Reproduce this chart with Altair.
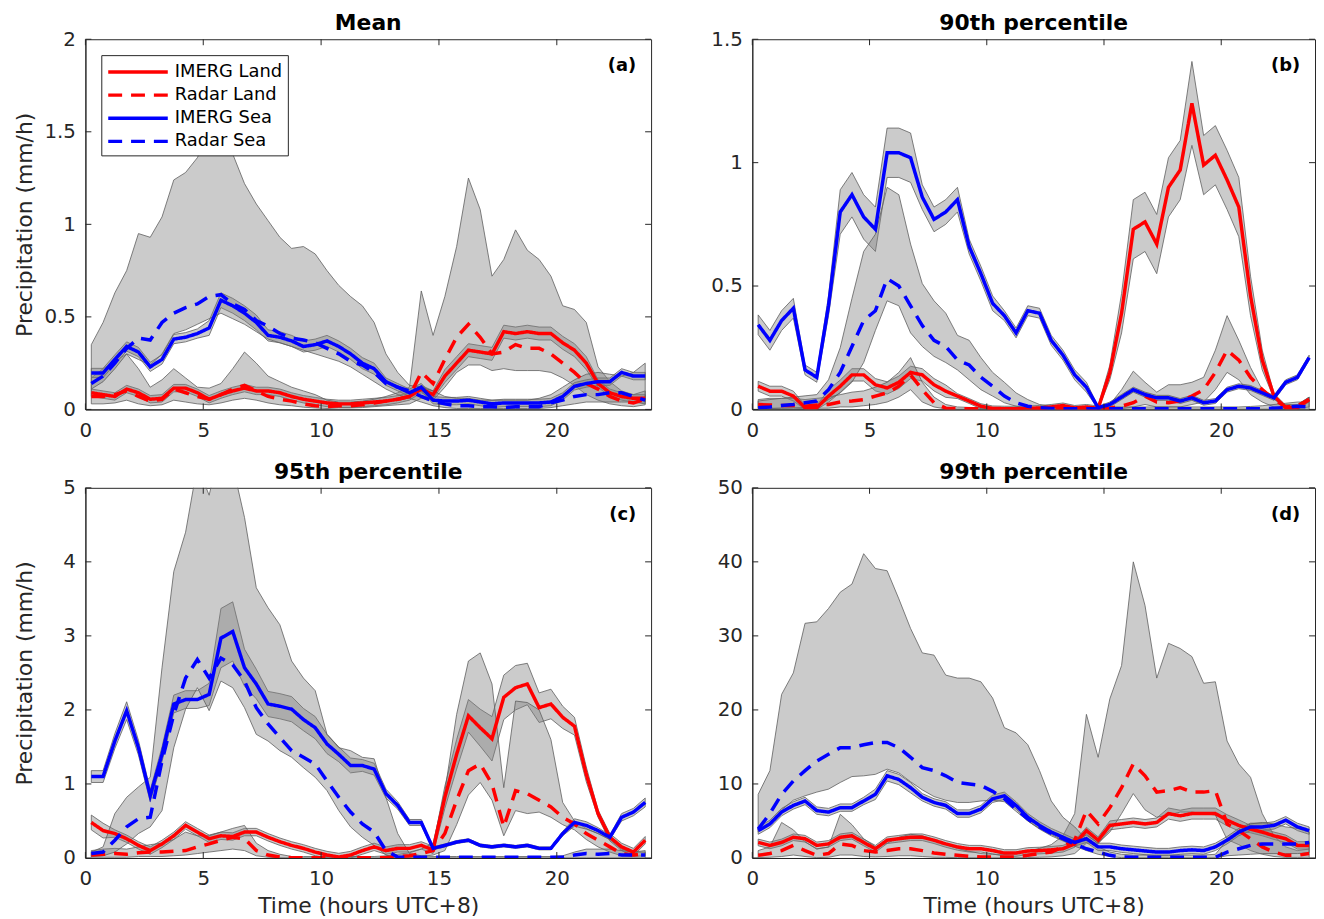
import altair as alt
import pandas as pd

FONT = "DejaVu Sans"
SERIES = ["IMERG Land", "Radar Land", "IMERG Sea", "Radar Sea"]
COLORS = ["#ff0000", "#ff0000", "#0000ff", "#0000ff"]
DASHES = [[1, 0], [14, 9], [1, 0], [14, 9]]

HOURS = [0.25, 0.75, 1.25, 1.75, 2.25, 2.75, 3.25, 3.75, 4.25, 4.75, 5.25, 5.75,
         6.25, 6.75, 7.25, 7.75, 8.25, 8.75, 9.25, 9.75, 10.25, 10.75, 11.25, 11.75,
         12.25, 12.75, 13.25, 13.75, 14.25, 14.75, 15.25, 15.75, 16.25, 16.75, 17.25, 17.75,
         18.25, 18.75, 19.25, 19.75, 20.25, 20.75, 21.25, 21.75, 22.25, 22.75, 23.25, 23.75]
X_TICKS = [0, 5, 10, 15, 20]

# ---------------- (a) Mean ----------------
a_imerg_land = [0.09,0.08,0.07,0.11,0.09,0.055,0.06,0.115,0.115,0.09, 0.055,0.08,0.10,0.115,0.10,0.10,0.09,0.07,0.055,0.045,
                0.035,0.03,0.03,0.035,0.04,0.045,0.055,0.07,0.11,0.08, 0.18,0.25,0.32,0.31,0.30,0.42,0.41,0.42,0.41,0.41,
                0.36,0.32,0.25,0.14,0.09,0.07,0.06,0.06]
a_imerg_land_hw = [0.02,0.02,0.02,0.02,0.02,0.02,0.02,0.02,0.02,0.02, 0.02,0.02,0.02,0.02,0.02,0.02,0.02,0.02,0.02,0.02,
                   0.02,0.02,0.02,0.02,0.02,0.02,0.02,0.02,0.02,0.02, 0.035,0.035,0.035,0.035,0.035,0.035,0.035,0.035,0.035,0.035,
                   0.035,0.035,0.035,0.02,0.02,0.02,0.02,0.02]
a_radar_land = [0.07,0.07,0.08,0.10,0.07,0.045,0.055,0.11,0.09,0.07, 0.055,0.08,0.11,0.13,0.10,0.07,0.055,0.045,0.03,0.02,
                0.015,0.02,0.02,0.025,0.035,0.045,0.055,0.07,0.20,0.14, 0.27,0.39,0.46,0.39,0.30,0.31,0.35,0.33,0.33,0.30,
                0.25,0.20,0.14,0.11,0.07,0.045,0.035,0.055]
a_radar_land_lo = [0.03,0.03,0.035,0.05,0.03,0.02,0.025,0.05,0.04,0.03, 0.025,0.035,0.05,0.06,0.05,0.035,0.025,0.02,0.012,0.008,
                   0.005,0.008,0.008,0.01,0.015,0.02,0.025,0.03,0.06,0.05, 0.12,0.2,0.24,0.24,0.21,0.22,0.21,0.21,0.21,0.2,
                   0.17,0.13,0.08,0.05,0.03,0.02,0.015,0.025]
a_radar_land_hi = [0.17,0.22,0.26,0.30,0.22,0.12,0.16,0.22,0.17,0.12, 0.115,0.14,0.22,0.31,0.25,0.18,0.15,0.12,0.10,0.08,
                   0.05,0.04,0.04,0.045,0.055,0.07,0.09,0.12,0.64,0.40, 0.61,0.88,1.25,1.08,0.72,0.81,0.97,0.86,0.81,0.72,
                   0.56,0.54,0.47,0.23,0.15,0.10,0.08,0.10]
a_imerg_sea = [0.197,0.197,0.27,0.34,0.31,0.23,0.27,0.38,0.39,0.41, 0.44,0.59,0.56,0.52,0.47,0.40,0.39,0.37,0.34,0.35,
               0.37,0.34,0.30,0.25,0.22,0.15,0.12,0.09,0.12,0.05, 0.045,0.045,0.05,0.04,0.03,0.035,0.035,0.035,0.035,0.04,
               0.07,0.125,0.14,0.15,0.15,0.20,0.18,0.18]
a_imerg_sea_hw = [0.025,0.025,0.025,0.025,0.025,0.025,0.025,0.025,0.025,0.025, 0.04,0.04,0.04,0.04,0.04,0.03,0.03,0.03,0.03,0.03,
                  0.03,0.03,0.03,0.03,0.03,0.02,0.02,0.02,0.02,0.02, 0.02,0.02,0.02,0.02,0.02,0.02,0.02,0.02,0.02,0.02,
                  0.02,0.02,0.02,0.02,0.02,0.02,0.02,0.02]
a_radar_sea = [0.14,0.18,0.25,0.33,0.385,0.375,0.47,0.52,0.55,0.57, 0.61,0.62,0.57,0.54,0.48,0.45,0.41,0.385,0.375,0.36,
               0.33,0.30,0.26,0.24,0.20,0.14,0.12,0.10,0.07,0.045, 0.03,0.02,0.02,0.015,0.015,0.01,0.015,0.015,0.015,0.035,
               0.05,0.07,0.08,0.08,0.09,0.09,0.07,0.05]
a_radar_sea_lo = [0.11,0.15,0.22,0.30,0.27,0.24,0.30,0.41,0.43,0.46, 0.49,0.52,0.49,0.46,0.42,0.38,0.36,0.34,0.32,0.30,
                  0.28,0.26,0.23,0.19,0.15,0.11,0.08,0.06,0.04,0.02, 0.01,0.005,0.005,0.005,0.005,0.005,0.005,0.005,0.005,0.01,
                  0.02,0.03,0.04,0.04,0.04,0.04,0.04,0.03]
a_radar_sea_hi = [0.35,0.47,0.63,0.75,0.95,0.93,1.04,1.24,1.28,1.36, 1.50,1.60,1.38,1.22,1.11,1.02,0.93,0.87,0.88,0.84,
                  0.75,0.67,0.61,0.56,0.47,0.30,0.20,0.13,0.12,0.10, 0.07,0.06,0.06,0.05,0.05,0.05,0.05,0.05,0.06,0.08,
                  0.12,0.16,0.19,0.20,0.19,0.18,0.2,0.25]

# ---------------- (b) 90th percentile ----------------
b_imerg_land = [0.094,0.074,0.074,0.054,0.007,0.007,0.054,0.094,0.14,0.14, 0.10,0.087,0.11,0.15,0.14,0.10,0.074,0.054,0.034,0.013,
                0.004,0.003,0.003,0.004,0.006,0.01,0.016,0.006,0.01,0.004, 0.15,0.39,0.73,0.76,0.67,0.90,0.97,1.24,0.99,1.03,
                0.93,0.82,0.46,0.20,0.054,0.007,0.007,0.04]
b_imerg_land_hw = [0.02,0.02,0.02,0.02,0.01,0.01,0.025,0.025,0.025,0.025, 0.025,0.025,0.025,0.025,0.025,0.025,0.025,0.01,0.01,0.01,
                   0.01,0.01,0.01,0.01,0.01,0.01,0.01,0.01,0.01,0.01, 0.03,0.08,0.12,0.12,0.12,0.12,0.12,0.17,0.12,0.12,
                   0.12,0.12,0.08,0.04,0.01,0.01,0.01,0.01]
b_radar_land = [0.02,0.018,0.016,0.016,0.013,0.018,0.02,0.03,0.034,0.04, 0.054,0.067,0.094,0.14,0.08,0.027,0.005,0.003,0.003,0.003,
                0.003,0.003,0.003,0.003,0.003,0.003,0.003,0.003,0.003,0.003, 0.005,0.013,0.027,0.054,0.03,0.027,0.034,0.054,0.08,0.15,
                0.24,0.20,0.13,0.08,0.04,0.01,0.015,0.04]
b_radar_land_lo = [0.005,0.005,0.005,0.005,0.003,0.005,0.005,0.01,0.01,0.015, 0.02,0.03,0.05,0.08,0.03,0.01,0.002,0.001,0.001,0.001,
                   0.001,0.001,0.001,0.001,0.001,0.001,0.001,0.001,0.001,0.001, 0.001,0.003,0.01,0.02,0.01,0.01,0.01,0.02,0.03,0.08,
                   0.15,0.12,0.06,0.03,0.01,0.003,0.003,0.01]
b_radar_land_hi = [0.04,0.045,0.045,0.045,0.04,0.045,0.05,0.06,0.07,0.075, 0.09,0.11,0.15,0.21,0.11,0.05,0.02,0.01,0.008,0.006,
                   0.006,0.006,0.006,0.006,0.006,0.006,0.006,0.006,0.006,0.006, 0.02,0.08,0.155,0.11,0.07,0.10,0.10,0.11,0.13,0.24,
                   0.38,0.28,0.17,0.08,0.04,0.02,0.02,0.05]
b_imerg_sea = [0.343,0.28,0.36,0.41,0.16,0.13,0.42,0.80,0.87,0.78, 0.73,1.04,1.04,1.02,0.86,0.77,0.80,0.85,0.66,0.55,
               0.43,0.38,0.31,0.40,0.39,0.28,0.22,0.14,0.09,0.007, 0.02,0.05,0.08,0.06,0.047,0.047,0.034,0.047,0.027,0.034,
               0.08,0.094,0.087,0.067,0.047,0.11,0.13,0.21]
b_imerg_sea_hw = [0.04,0.04,0.04,0.04,0.02,0.02,0.04,0.09,0.09,0.09, 0.09,0.1,0.1,0.1,0.05,0.05,0.05,0.05,0.03,0.03,
                  0.03,0.02,0.02,0.02,0.02,0.02,0.02,0.02,0.02,0.005, 0.01,0.01,0.01,0.01,0.01,0.01,0.01,0.01,0.01,0.01,
                  0.01,0.01,0.01,0.01,0.01,0.01,0.01,0.01]
b_radar_sea = [0.007,0.01,0.016,0.02,0.027,0.034,0.08,0.15,0.255,0.36, 0.40,0.53,0.50,0.42,0.34,0.28,0.255,0.20,0.18,0.13,
               0.094,0.054,0.027,0.013,0.007,0.004,0.003,0.003,0.003,0.003, 0.003,0.003,0.003,0.003,0.003,0.003,0.003,0.003,0.003,0.003,
               0.003,0.003,0.003,0.003,0.005,0.008,0.013,0.01]
b_radar_sea_lo = [0.002,0.003,0.005,0.006,0.008,0.01,0.04,0.067,0.11,0.19, 0.32,0.44,0.42,0.31,0.255,0.215,0.19,0.16,0.12,0.08,
                  0.054,0.027,0.013,0.005,0.002,0.001,0.001,0.001,0.001,0.001, 0.001,0.001,0.001,0.001,0.001,0.001,0.001,0.001,0.001,0.001,
                  0.001,0.001,0.001,0.001,0.001,0.001,0.001,0.001]
b_radar_sea_hi = [0.034,0.04,0.045,0.05,0.055,0.06,0.12,0.25,0.45,0.64, 0.71,0.90,0.87,0.67,0.51,0.44,0.39,0.30,0.28,0.21,
                  0.15,0.11,0.067,0.04,0.02,0.012,0.01,0.01,0.01,0.01, 0.01,0.01,0.01,0.01,0.01,0.01,0.01,0.01,0.01,0.01,
                  0.01,0.01,0.012,0.015,0.02,0.025,0.03,0.03]

# ---------------- (c) 95th percentile ----------------
c_imerg_land = [0.48,0.37,0.33,0.26,0.17,0.10,0.19,0.30,0.44,0.35, 0.26,0.30,0.29,0.35,0.35,0.28,0.22,0.17,0.13,0.08,
                0.04,0.013,0.04,0.10,0.15,0.10,0.13,0.13,0.17,0.11, 0.82,1.40,1.92,1.76,1.61,2.17,2.30,2.35,2.03,2.08,
                1.90,1.78,1.13,0.60,0.28,0.15,0.08,0.24]
c_imerg_land_hw = [0.1,0.1,0.05,0.05,0.05,0.05,0.05,0.05,0.05,0.05, 0.05,0.05,0.05,0.05,0.05,0.05,0.05,0.05,0.05,0.05,
                   0.05,0.05,0.05,0.05,0.05,0.05,0.05,0.05,0.05,0.05, 0.15,0.2,0.22,0.25,0.3,0.3,0.3,0.28,0.2,0.2,
                   0.15,0.12,0.1,0.05,0.05,0.05,0.05,0.05]
c_radar_land = [0.04,0.05,0.06,0.05,0.07,0.08,0.08,0.09,0.10,0.15, 0.19,0.24,0.28,0.26,0.10,0.04,0.013,0.005,0.005,0.005,
                0.005,0.005,0.005,0.005,0.005,0.005,0.02,0.03,0.06,0.10, 0.33,0.78,1.18,1.27,1.00,0.42,0.91,0.87,0.78,0.69,
                0.55,0.46,0.33,0.24,0.15,0.06,0.04,0.06]
c_radar_land_lo = [0.01,0.01,0.01,0.01,0.02,0.02,0.02,0.03,0.04,0.06, 0.08,0.1,0.12,0.1,0.03,0.01,0.003,0.001,0.001,0.001,
                   0.001,0.001,0.001,0.001,0.001,0.001,0.005,0.01,0.02,0.04, 0.1,0.45,0.85,1.02,0.78,0.30,0.64,0.60,0.62,0.55,
                   0.45,0.38,0.25,0.15,0.08,0.03,0.02,0.03]
c_radar_land_hi = [0.1,0.12,0.13,0.12,0.15,0.18,0.2,0.25,0.35,0.3, 0.3,0.35,0.4,0.44,0.2,0.1,0.05,0.02,0.02,0.02,
                   0.02,0.02,0.02,0.02,0.02,0.03,0.05,0.07,0.12,0.2, 0.9,1.94,2.66,2.77,2.35,0.95,2.12,2.1,2.0,1.6,
                   0.75,0.5,0.4,0.33,0.25,0.12,0.08,0.1]
c_imerg_sea = [1.10,1.10,1.58,1.99,1.49,0.84,1.40,2.08,2.14,2.14, 2.21,2.97,3.06,2.57,2.35,2.08,2.05,2.01,1.87,1.76,
               1.54,1.40,1.25,1.25,1.20,0.87,0.71,0.48,0.48,0.13, 0.17,0.215,0.24,0.17,0.15,0.17,0.15,0.17,0.13,0.13,
               0.33,0.48,0.44,0.37,0.28,0.55,0.62,0.75]
c_imerg_sea_hw = [0.08,0.08,0.1,0.12,0.1,0.08,0.1,0.12,0.12,0.12, 0.15,0.4,0.4,0.25,0.2,0.17,0.17,0.17,0.15,0.15,
                  0.13,0.1,0.1,0.08,0.08,0.06,0.05,0.04,0.04,0.02, 0.02,0.02,0.02,0.02,0.02,0.02,0.02,0.02,0.02,0.02,
                  0.03,0.05,0.05,0.04,0.03,0.05,0.05,0.06]
c_radar_sea = [0.06,0.08,0.24,0.42,0.53,0.55,1.31,1.94,2.43,2.68, 2.43,2.70,2.61,2.39,2.03,1.81,1.63,1.45,1.36,1.27,
               1.04,0.82,0.62,0.46,0.35,0.10,0.013,0.01,0.01,0.01, 0.01,0.01,0.01,0.01,0.01,0.01,0.01,0.01,0.01,0.01,
               0.01,0.04,0.06,0.05,0.06,0.04,0.04,0.04]
c_radar_sea_lo = [0.02,0.03,0.08,0.19,0.33,0.42,0.64,1.49,2.01,2.3, 1.99,2.39,2.30,2.03,1.67,1.58,1.45,1.36,1.22,1.09,
                  0.91,0.64,0.42,0.28,0.17,0.04,0.003,0.002,0.002,0.002, 0.002,0.002,0.002,0.002,0.002,0.002,0.002,0.002,0.002,0.002,
                  0.002,0.002,0.002,0.002,0.002,0.002,0.002,0.002]
c_radar_sea_hi = [0.08,0.15,0.6,0.82,0.96,1.09,2.57,3.87,4.4,5.3, 4.9,5.6,5.3,4.6,3.65,3.38,3.15,2.66,2.43,2.26,
                  1.67,1.49,1.45,1.36,1.34,0.82,0.33,0.06,0.03,0.02, 0.02,0.02,0.02,0.02,0.02,0.02,0.02,0.02,0.02,0.02,
                  0.03,0.08,0.12,0.12,0.12,0.1,0.08,0.08]

# ---------------- (d) 99th percentile ----------------
d_imerg_land = [2.1,1.7,2.1,2.8,2.6,1.7,1.9,2.8,3.0,2.1, 1.25,2.4,2.6,2.8,2.8,2.4,1.9,1.5,1.25,1.25,
                1.0,0.67,0.67,0.95,1.0,1.1,1.25,1.9,3.7,2.4, 4.4,4.6,4.8,4.6,4.8,6.0,5.7,6.0,6.0,6.0,
                5.1,4.4,3.9,3.5,3.0,2.6,1.7,1.7]
d_imerg_land_hw = [0.45,0.45,0.45,0.45,0.45,0.45,0.45,0.45,0.45,0.45, 0.45,0.45,0.45,0.45,0.45,0.45,0.45,0.45,0.45,0.45,
                   0.45,0.45,0.45,0.45,0.45,0.45,0.45,0.45,0.45,0.45, 0.6,0.6,0.6,0.6,0.6,0.75,0.75,0.75,0.75,0.75,
                   0.75,0.75,0.5,0.5,0.5,0.5,0.5,0.5]
d_radar_land = [0.36,0.6,1.0,1.7,1.0,0.36,0.6,1.9,1.7,1.0, 0.8,1.0,1.25,1.25,1.0,0.67,0.5,0.36,0.22,0.13,
                0.12,0.12,0.15,0.36,0.6,0.8,1.5,2.4,6.4,4.6, 6.8,9.5,12.7,11.1,8.9,9.1,9.5,8.9,8.9,9.1,
                4.6,3.7,2.6,1.5,0.8,0.36,0.36,0.6]
d_radar_land_lo = [0.05,0.1,0.2,0.4,0.2,0.05,0.1,0.4,0.4,0.2, 0.15,0.2,0.3,0.3,0.2,0.1,0.08,0.05,0.03,0.02,
                   0.02,0.02,0.03,0.06,0.1,0.15,0.3,0.6,2.0,2.0, 3.5,6.0,8.7,6.5,5.5,5.8,6.2,6.2,6.0,5.8,
                   2.5,1.8,1.0,0.5,0.2,0.08,0.08,0.1]
d_radar_land_hi = [1.0,1.5,4.8,3.8,2.2,1.2,1.5,5.9,4.5,2.6, 1.5,2.0,2.8,3.2,3.0,2.5,1.8,1.3,0.9,0.6,
                   0.5,0.5,0.6,0.9,1.3,1.8,3.0,6.0,19.4,13.6, 21.5,26.0,40.0,34.1,24.3,29.0,28.3,27.2,23.6,23.8,
                   15.8,12.7,10.9,6.0,3.0,1.5,1.0,1.2]
d_imerg_sea = [3.7,4.6,6.2,7.1,7.7,6.4,6.2,6.8,6.8,7.7, 8.6,11.1,10.6,9.5,8.2,7.5,7.1,6.0,6.0,6.6,
               8.0,8.4,7.1,5.5,4.4,3.5,2.8,2.1,2.6,1.5, 1.5,1.25,1.1,0.95,0.8,0.8,1.0,1.1,1.0,1.5,
               2.4,3.5,4.2,4.2,4.4,5.1,4.2,3.7]
d_imerg_sea_hw = [0.5,0.5,0.5,0.5,0.5,0.5,0.5,0.5,0.5,0.5, 0.7,0.7,0.7,0.7,0.5,0.5,0.5,0.5,0.5,0.5,
                  0.5,0.5,0.5,0.5,0.5,0.5,0.5,0.5,0.5,0.5, 0.5,0.5,0.5,0.5,0.5,0.5,0.5,0.5,0.5,0.5,
                  0.5,0.5,0.5,0.5,0.5,0.5,0.5,0.5]
d_radar_sea = [3.9,6.0,8.6,10.4,11.8,13.1,14.0,14.9,14.9,15.3, 15.6,15.6,14.9,13.6,12.2,11.8,11.1,10.2,10.0,9.8,
               9.0,8.0,6.6,5.3,4.2,3.3,2.6,1.9,1.25,0.8, 0.36,0.13,0.1,0.1,0.1,0.1,0.1,0.1,0.1,0.1,
               0.8,1.25,1.7,1.9,1.9,1.9,1.9,2.1]
d_radar_sea_lo = [3.5,4.8,6.5,7.8,8.4,8.9,9.3,10.2,11.0,11.1, 11.3,12.0,11.5,10.3,9.2,8.3,7.8,7.5,7.5,7.7,
                  7.8,7.6,6.3,5.0,4.0,3.2,2.4,1.6,1.0,0.5, 0.2,0.05,0.03,0.03,0.03,0.03,0.03,0.03,0.03,0.03,
                  0.3,0.4,0.5,0.6,0.6,0.6,0.6,0.7]
d_radar_sea_hi = [8.6,11.8,22.1,25.0,31.7,31.9,33.7,35.9,37.0,41.1, 39.1,38.8,35.0,31.0,27.7,27.4,24.7,24.3,24.3,23.8,
                  21.6,17.6,16.9,15.3,11.8,7.7,5.5,4.2,2.5,1.5, 0.8,0.5,0.4,0.4,0.4,0.4,0.4,0.4,0.4,0.5,
                  2.4,3.7,4.6,4.8,4.6,4.2,4.0,3.5]


def build_df(il, il_hw, rl, rl_lo, rl_hi, isea, is_hw, rs, rs_lo, rs_hi):
    rows = []
    def add(name, vals, los, his):
        for h, v, lo, hi in zip(HOURS, vals, los, his):
            rows.append({"series": name, "hour": h, "value": v, "lo": lo, "hi": hi})
    add("IMERG Land", il, [max(v - w, 0) for v, w in zip(il, il_hw)], [v + w for v, w in zip(il, il_hw)])
    add("Radar Land", rl, rl_lo, rl_hi)
    add("IMERG Sea", isea, [max(v - w, 0) for v, w in zip(isea, is_hw)], [v + w for v, w in zip(isea, is_hw)])
    add("Radar Sea", rs, rs_lo, rs_hi)
    return pd.DataFrame(rows)


H = 373
TICK_LEN = 6
TICK_COLOR = "#262626"


def panel(df, title, tag, ymax, yticks, width, ytitle, xtitle, show_legend):
    xaxis = alt.Axis(values=X_TICKS, title=xtitle, labelFlush=False, labelPadding=11,
                     titlePadding=7, ticks=False)
    xscale = alt.Scale(domain=[0, 24], nice=False, zero=False)
    x = alt.X("hour:Q", scale=xscale, axis=xaxis)
    yax_kwargs = dict(values=yticks, format=".1~f", labelFlush=False, labelPadding=10, ticks=False)
    if ytitle:
        yax_kwargs.update(title=ytitle, titleX=-61, titleY=H / 2, titleAngle=270,
                          titleBaseline="middle", titleAlign="center")
    else:
        yax_kwargs.update(title=None)
    yscale = alt.Scale(domain=[0, ymax], nice=False, zero=True)
    yaxis = alt.Axis(**yax_kwargs)

    bands = alt.Chart(df).mark_area(
        clip=True, fill="#808080", fillOpacity=0.41, stroke="#5f5f5f", strokeWidth=0.8
    ).encode(
        x=x,
        y=alt.Y("hi:Q", scale=yscale, axis=yaxis),
        y2="lo:Q",
        detail="series:N",
    )

    if show_legend:
        leg = alt.Legend(title=None, orient="top-left", offset=16, fillColor="white",
                         strokeColor="#262626", padding=5, labelFontSize=18, labelFont=FONT,
                         labelColor="#000000", symbolType="M-3,0H3", symbolSize=400,
                         symbolStrokeWidth=3.5, symbolOffset=20, labelOffset=25,
                         rowPadding=2.3, labelLimit=300)
    else:
        leg = None

    lines = alt.Chart(df).mark_line(clip=True, strokeWidth=3.5).encode(
        x=x,
        y=alt.Y("value:Q", scale=yscale, axis=yaxis),
        color=alt.Color("series:N", scale=alt.Scale(domain=SERIES, range=COLORS), legend=leg),
        strokeDash=alt.StrokeDash("series:N", scale=alt.Scale(domain=SERIES, range=DASHES), legend=leg),
    )

    # inward tick marks on all four sides (MATLAB box style)
    xt_df = pd.DataFrame({"hour": X_TICKS})
    yt_df = pd.DataFrame({"value": yticks})
    tick_bottom = alt.Chart(xt_df).mark_rule(color=TICK_COLOR, strokeWidth=1).encode(
        x=x, y=alt.value(H), y2=alt.value(H - TICK_LEN))
    tick_top = alt.Chart(xt_df).mark_rule(color=TICK_COLOR, strokeWidth=1).encode(
        x=x, y=alt.value(0), y2=alt.value(TICK_LEN))
    tick_left = alt.Chart(yt_df).mark_rule(color=TICK_COLOR, strokeWidth=1).encode(
        y=alt.Y("value:Q", scale=yscale, axis=yaxis), x=alt.value(0), x2=alt.value(TICK_LEN))
    tick_right = alt.Chart(yt_df).mark_rule(color=TICK_COLOR, strokeWidth=1).encode(
        y=alt.Y("value:Q", scale=yscale, axis=yaxis), x=alt.value(width), x2=alt.value(width - TICK_LEN))

    label = alt.Chart(pd.DataFrame({"tag": [tag]})).mark_text(
        fontSize=18, fontWeight="bold", align="right", baseline="middle", font=FONT, color="#000000"
    ).encode(x=alt.value(width - 15), y=alt.value(27), text="tag:N")

    return alt.layer(bands, lines, tick_bottom, tick_top, tick_left, tick_right, label).properties(
        width=width, height=H,
        title=alt.TitleParams(title, fontSize=22, fontWeight="bold", font=FONT, anchor="middle", offset=-6),
    )


df_a = build_df(a_imerg_land, a_imerg_land_hw, a_radar_land, a_radar_land_lo, a_radar_land_hi,
                a_imerg_sea, a_imerg_sea_hw, a_radar_sea, a_radar_sea_lo, a_radar_sea_hi)
df_b = build_df(b_imerg_land, b_imerg_land_hw, b_radar_land, b_radar_land_lo, b_radar_land_hi,
                b_imerg_sea, b_imerg_sea_hw, b_radar_sea, b_radar_sea_lo, b_radar_sea_hi)
df_c = build_df(c_imerg_land, c_imerg_land_hw, c_radar_land, c_radar_land_lo, c_radar_land_hi,
                c_imerg_sea, c_imerg_sea_hw, c_radar_sea, c_radar_sea_lo, c_radar_sea_hi)
df_d = build_df(d_imerg_land, d_imerg_land_hw, d_radar_land, d_radar_land_lo, d_radar_land_hi,
                d_imerg_sea, d_imerg_sea_hw, d_radar_sea, d_radar_sea_lo, d_radar_sea_hi)

YT = "Precipitation (mm/h)"
XT = "Time (hours UTC+8)"
pa = panel(df_a, "Mean", "(a)", 2, [0, 0.5, 1, 1.5, 2], 570, YT, None, True)
pb = panel(df_b, "90th percentile", "(b)", 1.5, [0, 0.5, 1, 1.5], 567, None, None, False)
pc = panel(df_c, "95th percentile", "(c)", 5, [0, 1, 2, 3, 4, 5], 570, YT, XT, False)
pd_ = panel(df_d, "99th percentile", "(d)", 50, [0, 10, 20, 30, 40, 50], 567, None, XT, False)

chart = alt.concat(pa, pb, pc, pd_, columns=2, spacing={"row": 19, "column": 58}).resolve_scale(
    color="independent", strokeDash="independent"
).properties(
    padding={"left": 5, "top": 0, "right": 0, "bottom": 0},
    background="white",
).configure(font=FONT).configure_view(
    stroke="#262626", strokeWidth=1
).configure_axis(
    domainColor="#262626", labelColor="#262626", titleColor="#262626",
    labelFontSize=20, titleFontSize=22, titleFontWeight="normal", grid=False,
    labelFont=FONT, titleFont=FONT,
)

chart.save("out.html", embed_options={"renderer": "svg", "actions": False})
